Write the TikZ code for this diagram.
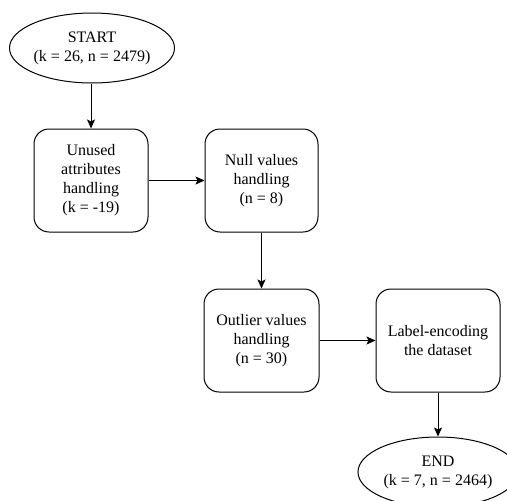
\documentclass[tikz,border=0pt]{standalone}
\usepackage{fontspec}
\setmainfont{Liberation Serif}
\usetikzlibrary{arrows.meta,shapes.geometric}
\begin{document}
\begin{tikzpicture}[x=1pt,y=-1pt,
  every node/.style={font=\fontsize{16}{19}\selectfont},
  procbox/.style={draw,line width=1pt,rounded corners=15pt,minimum width=114pt,minimum height=103pt,align=center,inner sep=0pt},
  term/.style={draw,line width=1pt,ellipse,minimum width=160pt,minimum height=70pt,align=center,inner sep=0pt},
  conn/.style={line width=1pt,-{Stealth[length=9pt,width=8pt,inset=2pt]}}]
\useasboundingbox (0,0) rectangle (507,501);
\clip (0,0) rectangle (507,501);
\node[term] (start) at (92,48) {START\\(k = 26, n = 2479)};
\node[procbox] (unused) at (91,180.5) {Unused\\attributes\\handling\\(k = -19)};
\node[procbox,minimum width=113pt] (null) at (261.5,180.5) {Null values\\handling\\(n = 8)};
\node[procbox,minimum width=115pt] (outlier) at (261.5,340.5) {Outlier values\\handling\\(n = 30)};
\node[procbox,minimum width=124pt] (label) at (438,340.5) {Label-encoding\\the dataset};
\node[term] (end) at (438,472) {END\\(k = 7, n = 2464)};
\draw[conn] (start.south -| unused) -- (unused.north);
\draw[conn] (unused) -- (null);
\draw[conn] (null) -- (outlier);
\draw[conn] (outlier) -- (label);
\draw[conn] (label) -- (end);
\end{tikzpicture}
\end{document}
